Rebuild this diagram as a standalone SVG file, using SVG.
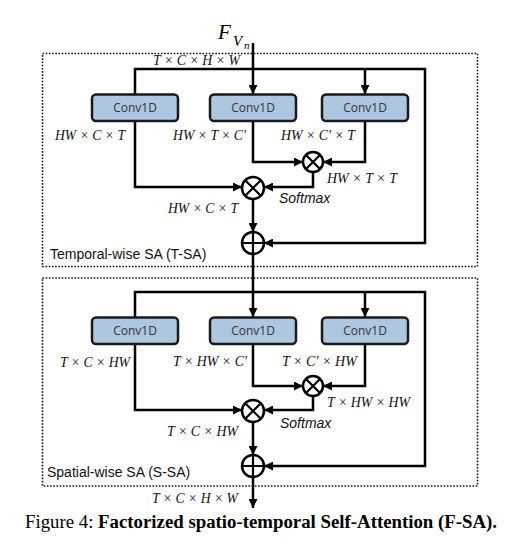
<svg xmlns="http://www.w3.org/2000/svg" width="508" height="547" viewBox="0 0 508 547">
<style>
.math{font-family:"Liberation Serif","DejaVu Serif",serif;font-style:italic;font-size:15px;fill:#111}
.sans{font-family:"Liberation Sans",Arial,sans-serif;font-size:14px;fill:#111}
.conv rect{fill:#adc7e1;stroke:#1a1a1a;stroke-width:2.5}
.conv text{font-family:"Open Sans","Liberation Sans",sans-serif;font-size:12px;fill:#333;text-anchor:middle}
.frame{fill:none;stroke:#111;stroke-width:1.6;stroke-dasharray:1.6 1.6}
.wire{fill:none;stroke:#000;stroke-width:2.5}
.op circle{fill:#fff;stroke:#000;stroke-width:2.5}
.op path{stroke:#000;stroke-width:2.2;fill:none}
.cap{font-family:"Liberation Serif","Times New Roman",serif;font-size:18.5px;fill:#000}
</style>
<defs>
<marker id="ah" viewBox="0 0 10 10" refX="10" refY="5" markerWidth="9" markerHeight="9" markerUnits="userSpaceOnUse" orient="auto">
<path d="M0,0 L10,5 L0,10 z" fill="#000"/>
</marker>
</defs>

<rect class="frame" x="42.5" y="53.5" width="435" height="213"/>
<rect class="frame" x="42.5" y="278" width="435" height="208"/>

<g id="connectors">
<path class="wire" d="M253,43 V94" marker-end="url(#ah)"/>
<path class="wire" d="M135,94 V69 H425 V243 H264" marker-end="url(#ah)"/>
<path class="wire" d="M365,69 V94" marker-end="url(#ah)"/>
<path class="wire" d="M135,121 V187 H242" marker-end="url(#ah)"/>
<path class="wire" d="M253,121 V162 H303" marker-end="url(#ah)"/>
<path class="wire" d="M365,121 V162 H323" marker-end="url(#ah)"/>
<path class="wire" d="M313,172 V187 H264" marker-end="url(#ah)"/>
<path class="wire" d="M253,199 V232" marker-end="url(#ah)"/>
<path class="wire" d="M253,254 V317" marker-end="url(#ah)"/>
<path class="wire" d="M135,317 V292 H425 V466 H264" marker-end="url(#ah)"/>
<path class="wire" d="M365,292 V317" marker-end="url(#ah)"/>
<path class="wire" d="M135,344 V410 H242" marker-end="url(#ah)"/>
<path class="wire" d="M253,344 V386 H303" marker-end="url(#ah)"/>
<path class="wire" d="M365,344 V386 H323" marker-end="url(#ah)"/>
<path class="wire" d="M313,396 V410 H264" marker-end="url(#ah)"/>
<path class="wire" d="M253,422 V455" marker-end="url(#ah)"/>
<path class="wire" d="M253,477 V508" marker-end="url(#ah)"/>
</g>

<g id="t-conv1" class="conv"><rect x="92" y="94.5" width="86" height="26.5" rx="4"/><text x="135" y="112">Conv1D</text></g>
<g id="t-conv2" class="conv"><rect x="210" y="94.5" width="86" height="26.5" rx="4"/><text x="253" y="112">Conv1D</text></g>
<g id="t-conv3" class="conv"><rect x="322" y="94.5" width="86" height="26.5" rx="4"/><text x="365" y="112">Conv1D</text></g>
<g id="t-mul2" class="op"><circle cx="313" cy="162" r="10"/><path d="M306,155 L320,169 M320,155 L306,169"/></g>
<g id="t-mul1" class="op"><circle cx="253" cy="188" r="11"/><path d="M245.2,180.2 L260.8,195.8 M260.8,180.2 L245.2,195.8"/></g>
<g id="t-add" class="op"><circle cx="253" cy="243" r="11"/><path d="M242,243 H264 M253,232 V254"/></g>

<g id="s-conv1" class="conv"><rect x="92" y="317.5" width="86" height="26.5" rx="4"/><text x="135" y="335">Conv1D</text></g>
<g id="s-conv2" class="conv"><rect x="210" y="317.5" width="86" height="26.5" rx="4"/><text x="253" y="335">Conv1D</text></g>
<g id="s-conv3" class="conv"><rect x="322" y="317.5" width="86" height="26.5" rx="4"/><text x="365" y="335">Conv1D</text></g>
<g id="s-mul2" class="op"><circle cx="313" cy="386" r="10"/><path d="M306,379 L320,393 M320,379 L306,393"/></g>
<g id="s-mul1" class="op"><circle cx="253" cy="411" r="11"/><path d="M245.2,403.2 L260.8,418.8 M260.8,403.2 L245.2,418.8"/></g>
<g id="s-add" class="op"><circle cx="253" cy="466" r="11"/><path d="M242,466 H264 M253,455 V477"/></g>

<g id="labels">
<text x="218" y="39" style="font-family:'Liberation Serif',serif;font-style:italic;font-size:21px">F</text>
<text x="233" y="46" style="font-family:'Liberation Serif',serif;font-style:italic;font-size:15px">V</text>
<text x="244" y="49" style="font-family:'Liberation Serif',serif;font-style:italic;font-size:11px">n</text>

<text class="math" x="153" y="65" textLength="87" lengthAdjust="spacingAndGlyphs">T × C × H × W</text>
<text class="math" x="55" y="140" textLength="70" lengthAdjust="spacingAndGlyphs">HW × C × T</text>
<text class="math" x="173" y="140" textLength="73" lengthAdjust="spacingAndGlyphs">HW × T × C′</text>
<text class="math" x="281" y="140" textLength="74" lengthAdjust="spacingAndGlyphs">HW × C′ × T</text>
<text class="math" x="327" y="183" textLength="70" lengthAdjust="spacingAndGlyphs">HW × T × T</text>
<text class="sans" x="279" y="203" font-style="italic">Softmax</text>
<text class="math" x="168" y="213" textLength="70" lengthAdjust="spacingAndGlyphs">HW × C × T</text>
<text class="sans" x="50" y="259">Temporal-wise SA (T-SA)</text>

<text class="math" x="60" y="367" textLength="70" lengthAdjust="spacingAndGlyphs">T × C × HW</text>
<text class="math" x="173" y="366" textLength="74" lengthAdjust="spacingAndGlyphs">T × HW × C′</text>
<text class="math" x="282" y="366" textLength="75" lengthAdjust="spacingAndGlyphs">T × C′ × HW</text>
<text class="math" x="327" y="407" textLength="83" lengthAdjust="spacingAndGlyphs">T × HW × HW</text>
<text class="sans" x="280" y="428" font-style="italic">Softmax</text>
<text class="math" x="167" y="436" textLength="71" lengthAdjust="spacingAndGlyphs">T × C × HW</text>
<text class="sans" x="47" y="477">Spatial-wise SA (S-SA)</text>
<text class="math" x="152" y="503" textLength="86" lengthAdjust="spacingAndGlyphs">T × C × H × W</text>

<text class="cap" x="25" y="528" textLength="472" lengthAdjust="spacingAndGlyphs">Figure 4: <tspan font-weight="bold">Factorized spatio-temporal Self-Attention (F-SA).</tspan></text>
</g>
</svg>
